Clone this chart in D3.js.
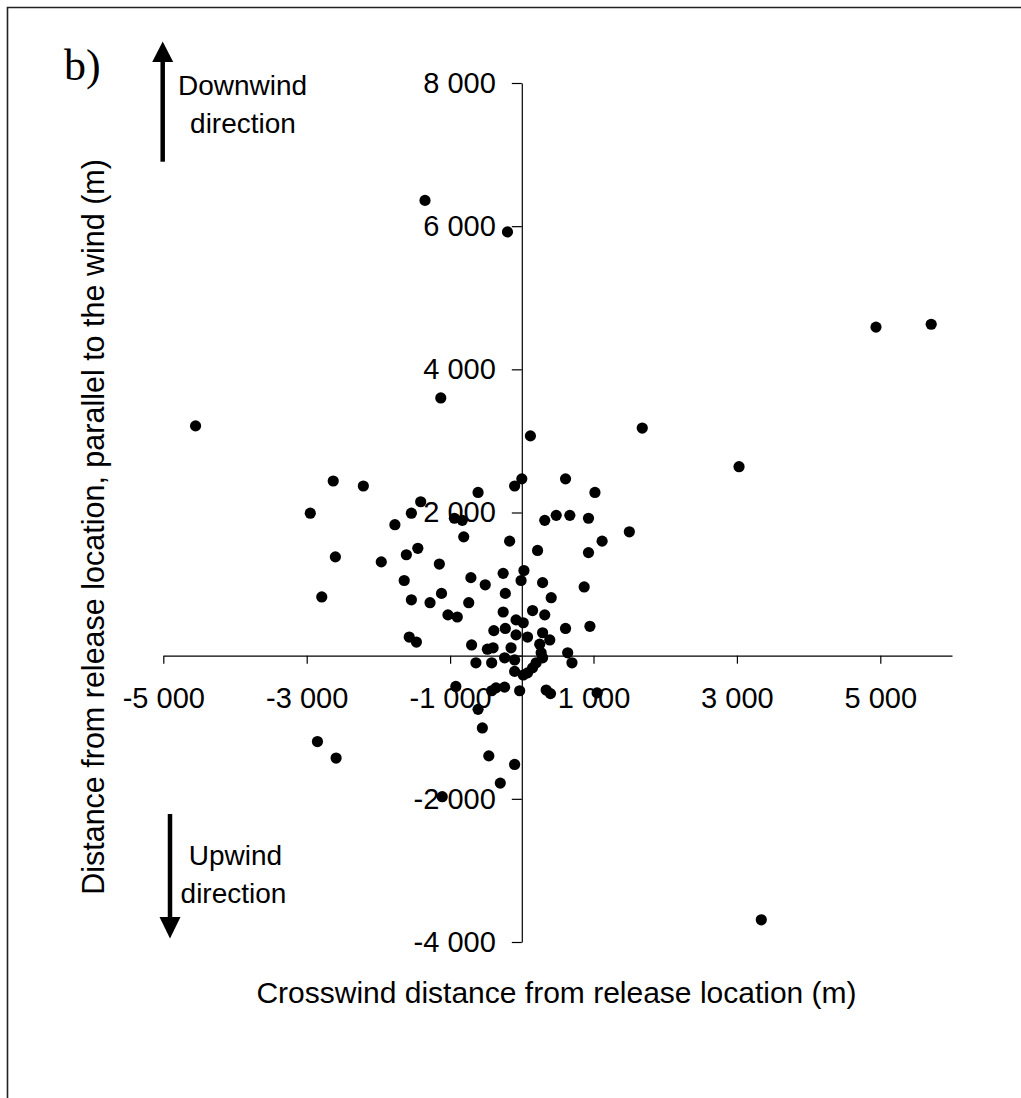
<!DOCTYPE html>
<html>
<head>
<meta charset="utf-8">
<script src="https://cdn.jsdelivr.net/npm/d3@7"></script>
<style>
  html, body { margin: 0; padding: 0; background: #fff; }
  svg { display: block; }
</style>
</head>
<body>
<svg id="chart" width="1021" height="1098"></svg>
<script>
// ---- Data ----
const crosswind = [
  -1350, -200, -1130, -4550, 4940, 5710, 1680, 3030, 3340, 120,
  -2630, -2210, -2950, -1410, -1540, -1770, -610, -940, -830, -810,
  -170, -2600, -1960, -1610, -1450, -1150, -1640, -710, -510, -260,
  -2790, -1540, -1120, -230, 0, -100, 610, 1020, 320, 480,
  670, 930, 1500, 220, 1120, 930, 30, -10, 290, 870,
  410, -1280, -740, -1030, -900, -260, -1570, -1470, -700, -390,
  -230, -80, -480, -400, -640, -420, -240, -150, -920, -360,
  -240, -420, 150, 320, -80, 20, 610, 950, 290, 390,
  80, 250, 270, 290, 640, 700, 200, 150, 80, 20,
  -100, -100, -30, 340, 400, 1050, -2850, -2590, -610, -550,
  -460, -100, -300, -1110
];
const downwind = [
  6360, 5920, 3600, 3210, 4590, 4630, 3180, 2640, -3690, 3070,
  2440, 2370, 1990, 2150, 1990, 1830, 2280, 1920, 1890, 1660,
  1600, 1380, 1310, 1410, 1500, 1280, 1050, 1090, 990, 1150,
  820, 780, 870, 870, 2470, 2370, 2470, 2280, 1890, 1960,
  1960, 1920, 1730, 1470, 1600, 1440, 1190, 1050, 1020, 960,
  810, 740, 740, 570, 540, 610, 260, 190, 150, 350,
  380, 290, 90, 110, -100, -100, -30, 110, -430, -450,
  -440, -490, 630, 570, 500, 460, 380, 410, 320, 220,
  260, 160, 40, -30, 40, -100, -100, -170, -240, -270,
  -220, -60, -490, -480, -530, -520, -1200, -1430, -750, -1010,
  -1400, -1520, -1780, -1970
];
const xTickValues = [-5000, -3000, -1000, 1000, 3000, 5000];
const xTickLabels = ["-5 000", "-3 000", "-1 000", "1 000", "3 000", "5 000"];
const yTickValues = [8000, 6000, 4000, 2000, 0, -2000, -4000];
const yTickLabels = ["8 000", "6 000", "4 000", "2 000", "", "-2 000", "-4 000"];
const xDomain = [-5000, 6000];
const yDomain = [-4000, 8000];

// ---- Drawing ----
const SANS = '"Liberation Sans", Arial, sans-serif';
const SERIF = '"Liberation Serif", "Times New Roman", serif';
const svg = d3.select("#chart");

// outer frame (left and top edges visible)
svg.append("path")
  .attr("d", "M7.5,1098 V7.5 H1021")
  .attr("fill", "none").attr("stroke", "#222").attr("stroke-width", 1.6);

const x = d3.scaleLinear().domain(xDomain).range([163.3, 952]);
const y = d3.scaleLinear().domain(yDomain).range([942, 83]);

const tickFont = 29;
const titleFont = 30;
const noteFont = 28;

// x axis through y=0
const xAxis = d3.axisBottom(x)
  .tickValues(xTickValues)
  .tickSize(8).tickSizeOuter(0)
  .tickFormat((d, i) => xTickLabels[i]);
const gx = svg.append("g").attr("transform", `translate(0,${y(0)})`).call(xAxis);
gx.selectAll(".tick text")
  .attr("y", 52).attr("dy", 0)
  .style("font-size", tickFont + "px").style("font-family", SANS).style("fill", "#000");

// y axis through x=0
const yAxis = d3.axisLeft(y)
  .tickValues(yTickValues)
  .tickSize(10).tickSizeOuter(0).tickPadding(16)
  .tickFormat((d, i) => yTickLabels[i]);
const gy = svg.append("g").attr("transform", `translate(${x(0)},0)`).call(yAxis);
gy.selectAll(".tick text")
  .style("font-size", tickFont + "px").style("font-family", SANS).style("fill", "#000");

[gx, gy].forEach(g => {
  g.selectAll("path.domain").attr("stroke", "#000").attr("stroke-width", 1.2);
  g.selectAll(".tick line").attr("stroke", "#000").attr("stroke-width", 1.2);
});

// data points
const pts = crosswind.map((v, i) => [v, downwind[i]]);
svg.append("g").selectAll("circle")
  .data(pts).join("circle")
  .attr("cx", d => x(d[0]))
  .attr("cy", d => y(d[1]))
  .attr("r", 5.6)
  .attr("fill", "#000");

function label(xp, yp, txt, size, family, anchor, transform) {
  const t = svg.append("text")
    .attr("text-anchor", anchor || "middle")
    .style("font-size", size + "px")
    .style("font-family", family || SANS)
    .style("fill", "#000")
    .text(txt);
  if (transform) t.attr("transform", transform);
  else t.attr("x", xp).attr("y", yp);
  return t;
}

// axis titles
label(556.5, 1003, "Crosswind distance from release location (m)", titleFont);
label(0, 0, "Distance from release location, parallel to the wind (m)", 30.5, SANS, "middle",
  "translate(104,527) rotate(-90)");

// panel label
label(64, 80, "b)", 44, SERIF, "start");

// direction arrows
function arrow(x0, yStart, yBase, yTip) {
  svg.append("line")
    .attr("x1", x0).attr("x2", x0).attr("y1", yStart).attr("y2", yBase)
    .attr("stroke", "#000").attr("stroke-width", 4.5);
  svg.append("path")
    .attr("d", `M${x0 - 10.5},${yBase} L${x0 + 10.5},${yBase} L${x0},${yTip} Z`)
    .attr("fill", "#000");
}
arrow(162.7, 161.7, 62, 41.5);
arrow(170, 814, 917, 938.5);

label(242.5, 95, "Downwind", noteFont);
label(243, 133, "direction", noteFont);
label(235.5, 865, "Upwind", noteFont);
label(233.5, 903, "direction", noteFont);
</script>
</body>
</html>
